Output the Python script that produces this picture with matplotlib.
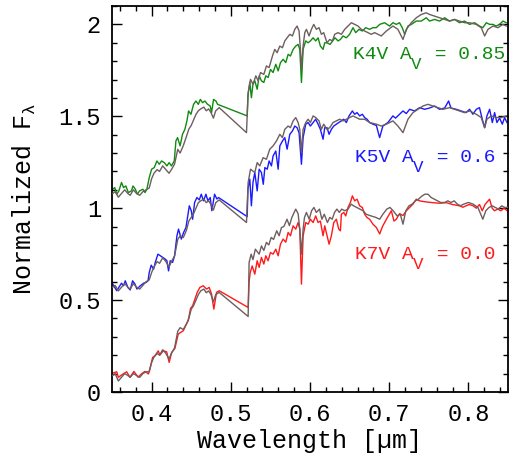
import matplotlib
matplotlib.use("Agg")
import matplotlib.pyplot as plt
from matplotlib.ticker import MultipleLocator

# ---------------- data ----------------
k7_obs_wl = [0.351,0.356,0.358,0.364,0.3685,0.3727,0.3777,0.383,0.387,0.3916,
             0.396,0.3988,0.4013,0.4042,0.4084,0.4105,0.4147,0.419,0.4222,0.4253,
             0.4294,0.4336,0.4366,0.440,0.4433,0.4462,0.4492,0.4518,0.4547,0.4576,
             0.461,0.4652,0.4694,0.4727,0.4757,0.4786,0.482,0.4853,
             0.5219,0.5231,0.5245,0.527,0.5303,0.5333,0.5358,0.5387,0.5417,0.5442,
             0.5471,0.5501,0.5534,0.5568,0.5598,0.5627,0.5661,0.5694,0.5724,0.5753,
             0.5787,0.582,0.585,0.5871,0.5892,0.5913,0.5946,0.5976,0.6005,0.6039,
             0.6072,0.6102,0.6131,0.6165,0.6186,0.6215,0.6241,0.627,0.630,0.6333,
             0.6363,0.6384,0.6396,0.6426,0.6451,0.648,0.651,0.6535,0.6564,0.6594,
             0.6627,0.6661,0.669,0.672,0.6753,0.6795,0.6838,0.688,0.6915,0.6965,
             0.7027,0.706,0.709,0.713,0.7174,0.7216,0.7258,0.730,0.7342,0.738,
             0.745,0.755,0.7636,0.772,0.780,0.7888,0.793,0.797,0.801,0.806,
             0.810,0.814,0.8175,0.821,0.825,0.8267,0.830,0.833,0.837,0.841,
             0.845,0.849]
k7_obs_flux = [0.103,0.11,0.08,0.098,0.11,0.08,0.112,0.08,0.098,0.112,
               0.098,0.143,0.188,0.197,0.224,0.201,0.224,0.219,0.161,0.215,
               0.237,0.315,0.324,0.333,0.364,0.388,0.455,0.469,0.505,0.542,
               0.569,0.578,0.56,0.569,0.533,0.451,0.542,0.551,
               0.46,0.60,0.65,0.686,0.641,0.714,0.678,0.732,0.696,0.741,
               0.714,0.759,0.75,0.777,0.741,0.804,0.832,0.815,0.868,0.85,
               0.904,0.886,0.922,0.886,0.587,0.85,0.922,0.913,0.94,0.922,
               0.958,0.922,0.93,0.85,0.904,0.85,0.804,0.85,0.922,0.94,
               0.886,0.877,0.967,0.977,0.958,1.004,1.031,1.067,1.04,1.049,
               1.013,1.004,0.967,0.949,0.94,0.913,0.895,0.86,0.90,0.94,
               0.986,0.93,0.94,0.97,0.96,0.986,1.004,1.022,1.049,1.04,
               1.035,1.03,1.027,1.03,1.02,1.013,1.005,1.013,1.02,1.013,
               1.0,1.02,0.986,1.02,1.04,1.049,1.0,0.986,0.995,0.986,
               1.0,0.986]

mod_blue_wl = [0.351,0.354,0.358,0.362,0.366,0.370,0.373,0.377,0.381,0.385,
               0.389,0.393,0.397,0.400,0.403,0.407,0.410,0.414,0.418,0.422,
               0.425,0.429,0.433,0.436,0.440,0.444,0.447,0.450,0.453,0.456,
               0.459,0.462,0.466,0.469,0.472,0.475,0.478,0.481,0.4853]

k7_mod_blue_flux = [0.09,0.10,0.06,0.08,0.10,0.09,0.08,0.10,0.09,0.08,
                    0.10,0.11,0.11,0.16,0.19,0.21,0.20,0.23,0.21,0.18,
                    0.21,0.24,0.33,0.35,0.34,0.37,0.40,0.45,0.47,0.50,
                    0.53,0.55,0.56,0.54,0.55,0.53,0.49,0.53,0.542]
k7_mod_red_wl = [0.5219,0.5231,0.5257,0.528,0.531,0.5358,0.5387,0.5417,0.545,0.548,
                 0.551,0.554,0.558,0.561,0.564,0.567,0.571,0.574,0.577,0.580,
                 0.582,0.585,0.5871,0.5892,0.5913,0.593,0.5955,0.599,0.602,0.605,
                 0.608,0.612,0.615,0.618,0.622,0.625,0.628,0.631,0.634,0.637,
                 0.640,0.644,0.648,0.652,0.655,0.659,0.663,0.667,0.671,0.677,
                 0.683,0.688,0.692,0.697,0.701,0.705,0.710,0.714,0.7174,0.721,
                 0.725,0.729,0.733,0.737,0.741,0.745,0.749,0.753,0.757,0.761,
                 0.765,0.770,0.774,0.778,0.782,0.786,0.790,0.794,0.800,0.806,
                 0.812,0.8182,0.822,0.826,0.830,0.834,0.838,0.842,0.846,0.850]
k7_mod_red_flux = [0.411,0.705,0.75,0.72,0.777,0.75,0.795,0.77,0.814,0.80,
                   0.841,0.83,0.877,0.85,0.895,0.90,0.94,0.905,0.949,0.977,
                   0.995,0.97,0.886,0.75,0.886,0.949,0.977,0.94,0.986,1.004,
                   0.977,0.995,0.94,0.967,0.922,0.95,0.94,0.977,0.995,0.977,
                   0.995,0.986,0.995,1.022,1.013,1.004,0.995,0.986,0.967,0.958,
                   0.95,0.94,0.967,0.995,1.004,0.986,0.958,0.967,0.913,0.986,
                   1.013,1.022,1.04,1.049,1.065,1.076,1.076,1.058,1.049,1.04,
                   1.031,1.031,1.04,1.031,1.04,1.022,1.013,1.022,1.031,1.022,
                   1.004,0.94,0.986,1.004,1.013,1.004,0.995,1.013,1.004,1.004]

k5_obs_wl = [0.351,0.3535,0.356,0.3587,0.362,0.3646,0.3667,0.370,0.373,0.376,
             0.379,0.3815,0.3857,0.390,0.393,0.3955,0.397,0.3995,0.4025,0.4046,
             0.408,0.411,0.414,0.4172,0.4193,0.4214,0.4235,0.4265,0.429,0.432,
             0.434,0.4375,0.4404,0.4434,0.4459,0.4476,0.4501,0.4518,0.4543,0.4572,
             0.4602,0.4627,0.4656,0.4686,0.4711,0.474,0.4761,0.4795,0.4824,0.4845,
             0.5207,0.5216,0.524,0.526,0.528,0.5303,0.5333,0.5358,0.5387,0.541,
             0.543,0.546,0.5484,0.5513,0.5534,0.5568,0.5598,0.5619,0.5653,0.5682,
             0.5711,0.5745,0.5778,0.5808,0.5837,0.5862,0.5892,0.5913,0.5946,0.5976,
             0.6005,0.6039,0.6072,0.6102,0.6131,0.6165,0.6186,0.6215,0.6241,0.627,
             0.630,0.6333,0.6363,0.6396,0.6426,0.6459,0.6493,0.6535,0.6564,0.6594,
             0.6627,0.6661,0.669,0.672,0.6753,0.6795,0.6838,0.6879,0.692,0.6984,
             0.7047,0.708,0.713,0.7174,0.7216,0.7258,0.7321,0.7384,0.7447,0.751,
             0.7573,0.7636,0.770,0.775,0.778,0.7846,0.791,0.797,0.8015,0.8057,
             0.81,0.814,0.8175,0.8205,0.8234,0.8268,0.8302,0.8331,0.836,0.8394,
             0.8428,0.8457,0.8487]
k5_obs_flux = [0.587,0.569,0.551,0.569,0.592,0.578,0.605,0.569,0.555,0.605,
               0.587,0.56,0.578,0.592,0.596,0.605,0.65,0.69,0.668,0.705,
               0.75,0.741,0.732,0.723,0.714,0.659,0.714,0.705,0.741,0.85,
               0.886,0.832,0.868,0.895,0.967,1.013,0.986,0.94,1.031,1.058,
               1.045,1.076,1.04,1.076,1.04,1.058,0.986,1.076,1.05,1.058,
               0.954,1.103,1.158,1.013,1.14,1.194,1.094,1.212,1.194,1.13,
               1.221,1.212,1.257,1.23,1.284,1.311,1.212,1.339,1.366,1.384,
               1.321,1.402,1.42,1.447,1.438,1.41,1.239,1.384,1.457,1.466,
               1.447,1.466,1.484,1.457,1.429,1.375,1.438,1.438,1.402,1.429,
               1.447,1.457,1.466,1.475,1.484,1.466,1.502,1.529,1.511,1.52,
               1.502,1.511,1.493,1.484,1.466,1.457,1.45,1.384,1.447,1.466,
               1.502,1.49,1.511,1.529,1.515,1.538,1.529,1.547,1.538,1.545,
               1.556,1.538,1.545,1.583,1.545,1.538,1.529,1.52,1.538,1.511,
               1.538,1.547,1.484,1.438,1.502,1.538,1.466,1.52,1.466,1.49,
               1.457,1.493,1.466]

k5_mod_blue_flux = [0.57,0.58,0.55,0.57,0.59,0.57,0.56,0.59,0.57,0.56,
                    0.58,0.60,0.61,0.65,0.68,0.71,0.70,0.73,0.71,0.68,
                    0.71,0.74,0.83,0.85,0.84,0.88,0.93,0.95,0.97,1.00,
                    1.03,1.04,1.05,1.03,1.04,1.02,0.99,1.03,1.045]
k5_mod_red_wl = [0.5198,0.5219,0.5249,0.5303,0.5333,0.5366,0.5408,0.545,0.5492,0.5534,
                 0.5577,0.5619,0.5652,0.5682,0.5724,0.5753,0.5787,0.582,0.585,0.5871,
                 0.5892,0.5913,0.5946,0.5976,0.6005,0.6039,0.6072,0.6114,0.6144,0.6173,
                 0.6215,0.6249,0.6291,0.6333,0.6375,0.6417,0.6459,0.650,0.6543,0.6585,
                 0.6627,0.669,0.6753,0.6838,0.690,0.6964,0.7047,0.711,0.7174,0.7237,
                 0.730,0.7363,0.7426,0.749,0.7552,0.7615,0.7678,0.7762,0.7825,0.7888,
                 0.7951,0.8015,0.8099,0.8162,0.8205,0.8234,0.8289,0.8352,0.8415,0.8478]
k5_mod_red_flux = [0.922,1.14,1.212,1.194,1.248,1.23,1.275,1.266,1.321,1.339,
                   1.366,1.402,1.384,1.429,1.447,1.438,1.475,1.493,1.466,1.429,
                   1.302,1.429,1.466,1.484,1.466,1.502,1.493,1.475,1.429,1.457,
                   1.429,1.438,1.466,1.475,1.484,1.475,1.484,1.493,1.502,1.493,
                   1.484,1.484,1.466,1.457,1.447,1.457,1.475,1.447,1.411,1.484,
                   1.52,1.538,1.556,1.565,1.556,1.547,1.538,1.547,1.538,1.529,
                   1.52,1.529,1.511,1.493,1.438,1.484,1.502,1.493,1.493,1.502]

k4_obs_wl = [0.351,0.3535,0.356,0.3587,0.362,0.3646,0.3675,0.3706,0.3745,0.3765,
             0.3795,0.382,0.3848,0.389,0.3916,0.394,0.397,0.400,0.4034,0.4067,
             0.4097,0.4126,0.416,0.4193,0.4222,0.425,0.4286,0.4307,0.4328,0.436,
             0.439,0.442,0.4446,0.4467,0.4497,0.453,0.456,0.459,0.4615,0.4644,
             0.4673,0.4707,0.474,0.4757,0.4782,0.4812,0.4833,
             0.5207,0.5216,0.524,0.526,0.528,0.5303,0.5333,0.5358,0.5387,0.5417,
             0.5442,0.5471,0.5501,0.5534,0.5568,0.5598,0.5627,0.5661,0.5694,0.5724,
             0.5753,0.5787,0.582,0.585,0.5871,0.5892,0.5913,0.5946,0.5976,0.6005,
             0.6039,0.6072,0.6102,0.6131,0.6165,0.6186,0.6215,0.6253,0.6287,0.6316,
             0.6354,0.6384,0.6417,0.6459,0.650,0.6543,0.6577,0.6619,0.6661,0.6703,
             0.6753,0.6795,0.6837,0.688,0.6942,0.7005,0.7047,0.709,0.713,0.7165,
             0.7195,0.7237,0.7279,0.7342,0.7405,0.7468,0.751,0.7573,0.7636,0.770,
             0.7762,0.7825,0.7888,0.7951,0.8015,0.8078,0.814,0.8182,0.8226,0.8268,
             0.831,0.835,0.8394,0.8436,0.8478]
k4_obs_flux = [1.103,1.112,1.076,1.094,1.14,1.112,1.121,1.085,1.094,1.121,
               1.103,1.076,1.094,1.103,1.085,1.103,1.166,1.212,1.221,1.257,
               1.239,1.257,1.248,1.23,1.248,1.23,1.257,1.366,1.384,1.339,
               1.402,1.429,1.475,1.529,1.511,1.565,1.583,1.565,1.592,1.574,
               1.583,1.565,1.556,1.52,1.592,1.583,1.565,
               1.502,1.611,1.684,1.601,1.675,1.693,1.647,1.72,1.693,1.684,
               1.72,1.711,1.755,1.738,1.783,1.747,1.792,1.81,1.792,1.837,
               1.828,1.864,1.882,1.891,1.864,1.684,1.864,1.91,1.9,1.91,
               1.927,1.91,1.927,1.882,1.864,1.9,1.9,1.891,1.91,1.927,
               1.91,1.918,1.937,1.927,1.946,1.982,1.955,1.973,1.964,1.982,
               1.973,1.982,1.982,2.0,2.009,1.991,2.009,2.0,2.009,1.982,
               1.946,1.991,2.0,2.018,2.018,2.036,2.018,2.027,2.018,2.036,
               2.018,2.027,2.009,2.018,2.0,2.009,1.991,1.982,2.009,2.0,
               2.0,1.991,2.0,2.018,2.009]

k4_mod_blue_flux = [1.08,1.09,1.06,1.08,1.10,1.08,1.07,1.10,1.08,1.07,
                    1.09,1.10,1.11,1.16,1.19,1.21,1.20,1.23,1.21,1.19,
                    1.21,1.24,1.32,1.30,1.34,1.39,1.43,1.45,1.48,1.51,
                    1.53,1.54,1.55,1.53,1.54,1.52,1.49,1.53,1.547]
k4_mod_red_wl = [0.5198,0.5219,0.5249,0.528,0.5316,0.5345,0.5375,0.5417,0.545,0.5484,
                 0.5526,0.5555,0.5585,0.5619,0.5652,0.5682,0.5711,0.5745,0.5778,0.5808,
                 0.5837,0.5862,0.5879,0.5892,0.5913,0.5934,0.5955,0.5988,0.6018,0.6047,
                 0.6081,0.6114,0.6144,0.6173,0.6215,0.6249,0.6283,0.6312,0.6354,0.6396,
                 0.6438,0.648,0.6522,0.6564,0.6606,0.6648,0.669,0.6732,0.6774,0.6816,
                 0.690,0.6964,0.7047,0.711,0.7174,0.7216,0.7279,0.7342,0.7405,0.7468,
                 0.751,0.7573,0.7636,0.770,0.7762,0.7825,0.7888,0.7951,0.8015,0.8099,
                 0.8162,0.8205,0.8247,0.831,0.8373,0.8436,0.8478]
k4_mod_red_flux = [1.411,1.628,1.701,1.674,1.72,1.693,1.738,1.728,1.774,1.765,
                   1.828,1.864,1.846,1.882,1.873,1.91,1.927,1.946,1.937,1.973,
                   1.991,1.964,1.864,1.755,1.882,1.955,1.973,1.937,1.973,2.0,
                   1.973,1.982,1.946,1.955,1.9,1.918,1.91,1.946,1.955,1.946,
                   1.973,1.991,2.009,2.0,1.991,1.973,1.964,1.955,1.946,1.955,
                   1.937,1.964,1.991,1.973,1.918,1.973,2.009,2.036,2.054,2.063,
                   2.054,2.045,2.036,2.027,2.018,2.027,2.018,2.009,2.009,2.0,
                   1.982,1.937,1.973,1.991,1.982,2.0,1.991]

label_types = ["K4V", "K5V", "K7V"]
label_av = ["0.85", "0.6", "0.0"]
label_pos = [(0.654, 1.81), (0.6565, 1.25), (0.6565, 0.723)]
obs_colors = ["#108a10", "#1a1aff", "#ff1a1a"]
model_color = "#6e5e5e"

# ---------------- figure ----------------
plt.rcParams['font.family'] = ['Liberation Mono', 'DejaVu Sans']
plt.rcParams['mathtext.fontset'] = 'custom'
plt.rcParams['mathtext.rm'] = 'Liberation Mono'
plt.rcParams['mathtext.it'] = 'Liberation Mono'

fig = plt.figure(figsize=(5.10, 4.54), dpi=100)
ax = fig.add_axes([112/510, 62/454, 396/510, 386/454])

series = [
    (k4_obs_wl, k4_obs_flux, mod_blue_wl + k4_mod_red_wl, k4_mod_blue_flux + k4_mod_red_flux),
    (k5_obs_wl, k5_obs_flux, mod_blue_wl + k5_mod_red_wl, k5_mod_blue_flux + k5_mod_red_flux),
    (k7_obs_wl, k7_obs_flux, mod_blue_wl + k7_mod_red_wl, k7_mod_blue_flux + k7_mod_red_flux),
]
for (ow, of, mw, mf), col in zip(series, obs_colors):
    ax.plot(ow, of, color=col, lw=1.0, zorder=2)
    ax.plot(mw, mf, color=model_color, lw=1.0, zorder=3)

fs = 14
adv = 0.6 * fs  # monospace advance in points
for st, av, (x, y), col in zip(label_types, label_av, label_pos, obs_colors):
    ax.annotate(st + " A", (x, y), xytext=(0, 0), textcoords='offset points',
                color=col, fontsize=fs, va='baseline', ha='left')
    ax.annotate("V", (x, y), xytext=(5 * adv, -0.5 * fs), textcoords='offset points',
                color=col, fontsize=fs * 0.9, va='baseline', ha='left')
    ax.annotate(" = " + av, (x, y), xytext=(6 * adv, 0), textcoords='offset points',
                color=col, fontsize=fs, va='baseline', ha='left')

ax.set_xlim(0.35, 0.85)
ax.set_ylim(0.0, 2.1)
ax.xaxis.set_major_locator(MultipleLocator(0.1))
ax.xaxis.set_minor_locator(MultipleLocator(0.02))
ax.yaxis.set_major_locator(MultipleLocator(0.5))
ax.yaxis.set_minor_locator(MultipleLocator(0.1))
ax.set_xticks([0.4, 0.5, 0.6, 0.7, 0.8])
ax.set_xticklabels(["0.4", "0.5", "0.6", "0.7", "0.8"])
ax.set_yticks([0, 0.5, 1, 1.5, 2])
ax.set_yticklabels(["0", "0.5", "1", "1.5", "2"])
ax.tick_params(which='both', direction='in', top=True, right=True, width=1.0, labelsize=17)
ax.tick_params(which='major', length=7, pad=8)
ax.tick_params(which='minor', length=3.5)
for s in ax.spines.values():
    s.set_linewidth(1.3)

ax.set_xlabel("Wavelength [µm]", fontsize=18, labelpad=2)
ax.set_ylabel("Normalized F$_\\lambda$", fontsize=18, labelpad=15)

fig.savefig("out.png", dpi=100)
